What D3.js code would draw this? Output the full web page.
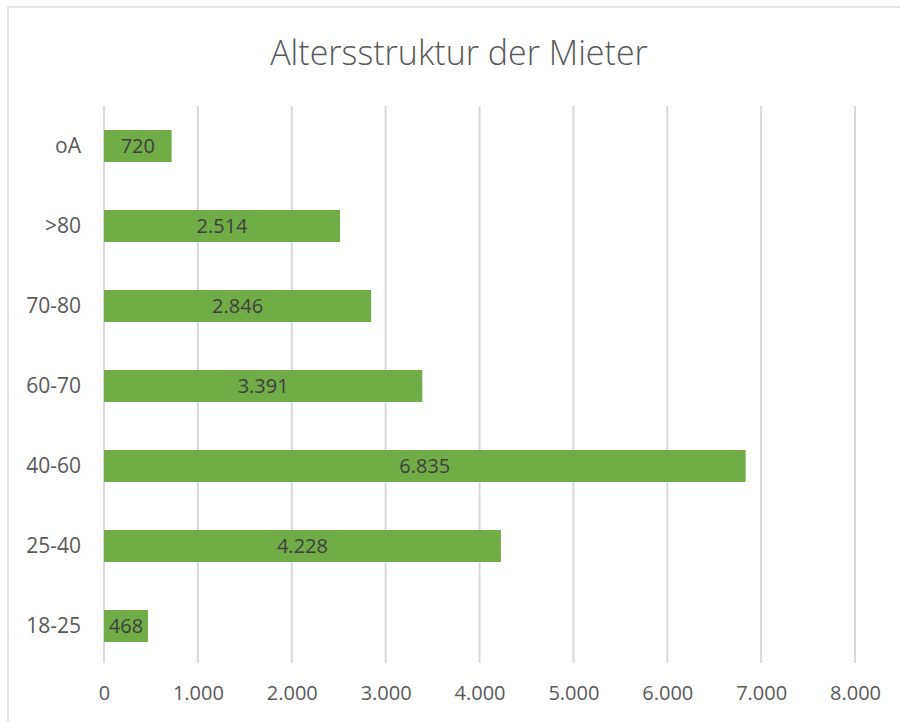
<!DOCTYPE html>
<html>
<head>
<meta charset="utf-8">
<script src="https://cdn.jsdelivr.net/npm/d3@7"></script>
<style>
  body { margin: 0; background: #fff; }
  svg { display: block; font-family: "Open Sans", sans-serif; }
</style>
</head>
<body>
<svg width="900" height="722"></svg>
<script>
// Altersstruktur der Mieter - horizontal bars

var categories = ["oA", ">80", "70-80", "60-70", "40-60", "25-40", "18-25"];
var values = [720, 2514, 2846, 3391, 6835, 4228, 468];
var xTicks = [0, 1000, 2000, 3000, 4000, 5000, 6000, 7000, 8000];
var title = "Altersstruktur der Mieter";

var svg = d3.select("svg"),
    margin = {top: 106, right: 45, bottom: 56, left: 104},
    width = +svg.attr("width") - margin.left - margin.right,
    height = +svg.attr("height") - margin.top - margin.bottom;

var de = d3.formatLocale({decimal: ",", thousands: ".", grouping: [3], currency: ["", " €"]});
var fmt = de.format(",d");

// chart frame
svg.append("rect")
    .attr("x", 8).attr("y", 7)
    .attr("width", 920).attr("height", 760)
    .attr("fill", "none")
    .attr("stroke", "#d9d9d9")
    .attr("stroke-width", 1.5);

svg.append("text")
    .attr("x", 459)
    .attr("y", 65)
    .attr("text-anchor", "middle")
    .attr("font-size", 34)
    .attr("font-weight", 300)
    .attr("fill", "#595959")
    .text(title);

var x = d3.scaleLinear().domain([0, 8000]).range([0, 751]);
var y = d3.scaleBand().domain(categories).range([0, 560]).paddingInner(0.6).paddingOuter(0.3);

var g = svg.append("g")
    .attr("transform", "translate(" + margin.left + "," + margin.top + ")");

// gridlines
g.selectAll("line.grid")
    .data(xTicks)
    .enter().append("line")
    .attr("class", "grid")
    .attr("x1", function(d) { return x(d); })
    .attr("x2", function(d) { return x(d); })
    .attr("y1", 0)
    .attr("y2", 557)
    .attr("stroke", "#d9d9d9")
    .attr("stroke-width", 2);

// x axis labels
var xAxis = d3.axisBottom(x).tickValues(xTicks).tickFormat(fmt).tickSize(0).tickPadding(20);
var ax = g.append("g")
    .attr("transform", "translate(0,560)")
    .call(xAxis);
ax.select(".domain").remove();
ax.selectAll("text")
    .attr("font-size", 20)
    .attr("font-family", "Open Sans, sans-serif")
    .attr("fill", "#595959");

// y axis labels
var yAxis = d3.axisLeft(y).tickSize(0).tickPadding(23);
var ay = g.append("g").call(yAxis);
ay.select(".domain").remove();
ay.selectAll("text")
    .attr("font-size", 21)
    .attr("font-family", "Open Sans, sans-serif")
    .attr("fill", "#595959");

// bars
g.selectAll("rect.bar")
    .data(values)
    .enter().append("rect")
    .attr("class", "bar")
    .attr("x", x(0))
    .attr("y", function(d, i) { return y(categories[i]); })
    .attr("width", function(d) { return x(d) - x(0); })
    .attr("height", y.bandwidth())
    .attr("fill", "#70ad47");

// data labels
g.selectAll("text.lbl")
    .data(values)
    .enter().append("text")
    .attr("class", "lbl")
    .attr("x", function(d) { return (x(d) + x(0)) / 2; })
    .attr("y", function(d, i) { return y(categories[i]) + y.bandwidth() / 2; })
    .attr("dy", "0.35em")
    .attr("text-anchor", "middle")
    .attr("font-size", 20)
    .attr("fill", "#404040")
    .text(function(d) { return fmt(d); });
</script>
</body>
</html>
